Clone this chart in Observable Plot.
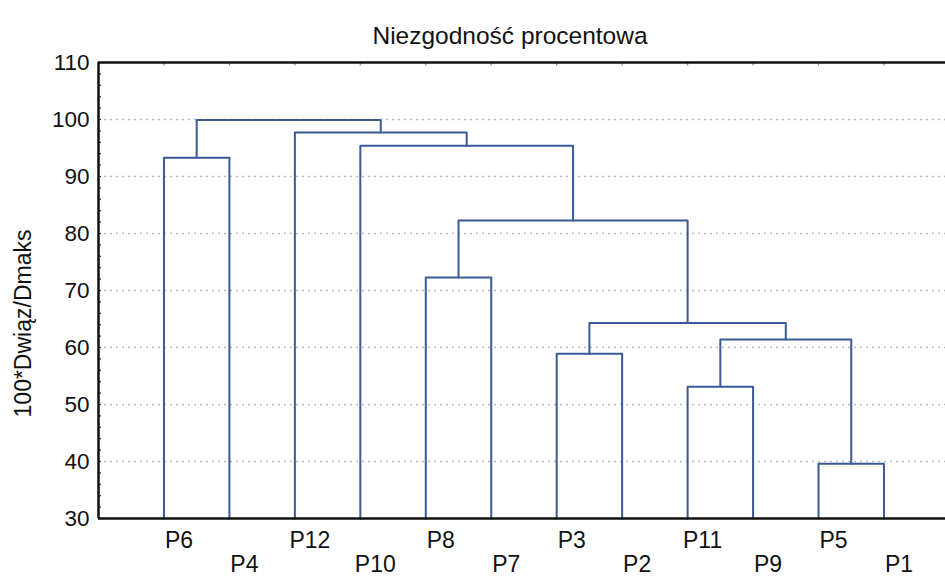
<!DOCTYPE html>
<html>
<head>
<meta charset="utf-8">
<script src="https://cdn.jsdelivr.net/npm/d3@7"></script>
<script src="https://cdn.jsdelivr.net/npm/@observablehq/plot@0.6"></script>
<style>
  html, body { margin: 0; padding: 0; background: #fff; }
  svg { display: block; }
</style>
</head>
<body>
<div id="chart"></div>
<script>
// ---- data ----
const title = "Niezgodność procentowa";
const yLabel = "100*Dwiąz/Dmaks";
const leaves = ["P6", "P4", "P12", "P10", "P8", "P7", "P3", "P2", "P11", "P9", "P5", "P1"];
const mergeName   = ["A",  "B",  "C",   "D",  "E",  "F",  "G",  "H",  "I",   "J",   "K"];
const mergeLeft   = ["P6", "P5", "P11", "C",  "P3", "E",  "P8", "G",  "P10", "P12", "A"];
const mergeRight  = ["P4", "P1", "P9",  "B",  "P2", "D",  "P7", "F",  "H",   "I",   "J"];
const mergeHeight = [93.3, 39.6, 53.1, 61.4, 58.9, 64.3, 72.3, 82.3, 95.4, 97.7, 99.9];
const yTicks = [30, 40, 50, 60, 70, 80, 90, 100, 110];
const gridValues = [40, 50, 60, 70, 80, 90, 100];
const minorTicks = d3.range(30, 111, 2);
const yBase = 30;

// ---- build dendrogram paths ----
const pos = new Map();
leaves.forEach((n, i) => pos.set(n, {x: i + 1, y: yBase}));
const pathPts = [];
mergeName.forEach((name, i) => {
  const L = pos.get(mergeLeft[i]), R = pos.get(mergeRight[i]), h = mergeHeight[i];
  pathPts.push({id: name, x: L.x, y: L.y});
  pathPts.push({id: name, x: L.x, y: h});
  pathPts.push({id: name, x: R.x, y: h});
  pathPts.push({id: name, x: R.x, y: R.y});
  pos.set(name, {x: (L.x + R.x) / 2, y: h});
});
const leafData = leaves.map((n, i) => ({name: n, x: i + 1, row: i % 2}));

const blue = "#3a5a96";
const font = "'Liberation Sans', Arial, sans-serif";

const chart = Plot.plot({
  width: 945,
  height: 576,
  marginLeft: 98,
  marginRight: 0,
  marginTop: 62,
  marginBottom: 58,
  style: {fontFamily: font, color: "#111", background: "#fff"},
  x: {domain: [0, 12.94], axis: null},
  y: {domain: [30, 110]},
  marks: [
    Plot.ruleY(gridValues, {stroke: "#b8b8b8", strokeWidth: 1.6, strokeDasharray: "2,4"}),
    Plot.axisY({ticks: yTicks, tickSize: 0, tickPadding: 9, fontSize: 22.5, label: null, fill: "#111"}),
    Plot.ruleY(minorTicks, {x1: 0, x2: 0.045, stroke: "#222", strokeWidth: 1.2}),
    Plot.ruleX(leafData, {x: "x", y1: 110, y2: 109.4, stroke: "#888", strokeWidth: 1.2}),
    Plot.line(pathPts, {x: "x", y: "y", z: "id", stroke: blue, strokeWidth: 2, curve: "linear"}),
    Plot.ruleX([0], {stroke: "#111", strokeWidth: 2.5}),
    Plot.ruleY([30, 110], {stroke: "#111", strokeWidth: 2.5}),
    Plot.text(leafData.filter(d => d.row === 0), {x: "x", y: yBase, text: "name", dx: 15, dy: 22, fontSize: 23, fill: "#111"}),
    Plot.text(leafData.filter(d => d.row === 1), {x: "x", y: yBase, text: "name", dx: 15, dy: 46, fontSize: 23, fill: "#111"}),
    Plot.text([title], {frameAnchor: "top", dx: -12, dy: -36, fontSize: 24.5, fill: "#111"}),
    Plot.text([yLabel], {frameAnchor: "left", textAnchor: "middle", rotate: -90, dx: -75, dy: 33, fontSize: 23, fill: "#111"})
  ]
});
document.getElementById("chart").append(chart);
</script>
</body>
</html>
